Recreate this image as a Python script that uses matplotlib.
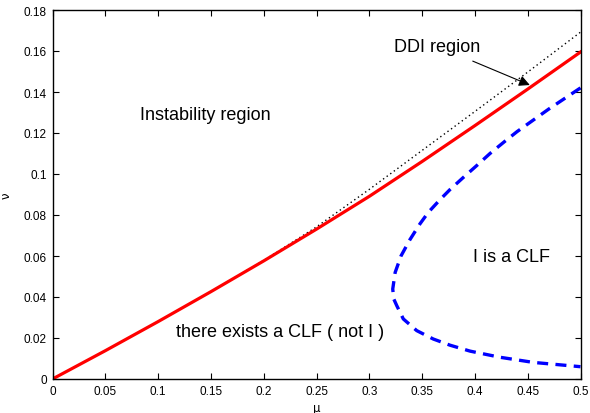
import numpy as np
import matplotlib
matplotlib.use('Agg')
import matplotlib.pyplot as plt

plt.rcParams['font.family'] = ['Liberation Sans', 'DejaVu Sans']

# --- dados ---
mu_red = [0, 0.05, 0.1, 0.15, 0.2, 0.25, 0.3, 0.35, 0.4, 0.45, 0.5]
nu_red = [0, 0.0138, 0.0280, 0.0426, 0.0576, 0.0731, 0.0891, 0.1061, 0.1236, 0.1414, 0.1595]

mu_dot = [0, 0.05, 0.1, 0.15, 0.2, 0.25, 0.3, 0.35, 0.4, 0.45, 0.5]
nu_dot = [0, 0.0138, 0.0280, 0.0426, 0.0578, 0.0742, 0.0925, 0.1115, 0.1305, 0.1497, 0.1692]

# curva azul (fronteira em forma de C), do ramo superior ao inferior
mu_blue = [0.5, 0.47, 0.44, 0.4285, 0.4143, 0.4017, 0.389, 0.3764, 0.367,
           0.3559, 0.348, 0.3385, 0.33, 0.3245, 0.3222, 0.3232, 0.326, 0.3322,
           0.3449, 0.3606, 0.3764, 0.3954, 0.4238, 0.4553, 0.5]
nu_blue = [0.142, 0.1317, 0.1207, 0.116, 0.110, 0.1041, 0.0983, 0.0924, 0.0875,
           0.0813, 0.0757, 0.068, 0.060, 0.052, 0.0439, 0.0390, 0.0358, 0.0293,
           0.0236, 0.0195, 0.0165, 0.0136, 0.0106, 0.0081, 0.006]

xticks = [0, 0.05, 0.1, 0.15, 0.2, 0.25, 0.3, 0.35, 0.4, 0.45, 0.5]
yticks = [0, 0.02, 0.04, 0.06, 0.08, 0.1, 0.12, 0.14, 0.16, 0.18]

fig = plt.figure(figsize=(5.9, 4.14), dpi=100)
ax = fig.add_axes([52.5 / 590, 1 - 380 / 414, 528 / 590, 369 / 414])

ax.plot(mu_dot, nu_dot, color='k', ls=(0, (1, 2.2)), lw=1.0)
ax.plot(mu_red, nu_red, color='red', lw=2.3)
ax.plot(mu_blue, nu_blue, color='blue', lw=2.4, ls=(0, (3.3, 2.2)))

ax.set_xlim(0, 0.5)
ax.set_ylim(0, 0.18)
ax.set_xticks(xticks)
ax.set_xticklabels(['0', '0.05', '0.1', '0.15', '0.2', '0.25', '0.3', '0.35', '0.4', '0.45', '0.5'])
ax.set_yticks(yticks)
ax.set_yticklabels(['0', '0.02', '0.04', '0.06', '0.08', '0.1', '0.12', '0.14', '0.16', '0.18'])
ax.tick_params(direction='in', top=True, right=True, length=4, width=0.8,
               labelsize=8.5, pad=4)
for s in ax.spines.values():
    s.set_linewidth(1.0)

ax.set_xlabel('μ', fontsize=8.5, family='DejaVu Sans', labelpad=3)
ax.set_ylabel('ν', fontsize=8.5, family='DejaVu Sans', labelpad=8, rotation=90)

fs = 13
ax.text(0.1444, 0.1288, 'Instability region', fontsize=fs, ha='center', va='center')
ax.text(0.435, 0.060, 'I is a CLF', fontsize=fs, ha='center', va='center')
ax.text(0.2154, 0.0234, 'there exists a CLF ( not I )', fontsize=fs, ha='center', va='center')
ax.annotate('DDI region', xy=(0.452, 0.1434), xytext=(0.364, 0.1624),
            fontsize=fs, ha='center', va='center',
            arrowprops=dict(arrowstyle='-|>', color='k', lw=0.8,
                            mutation_scale=16, shrinkA=7, shrinkB=0))

fig.savefig('out.png', dpi=100)
